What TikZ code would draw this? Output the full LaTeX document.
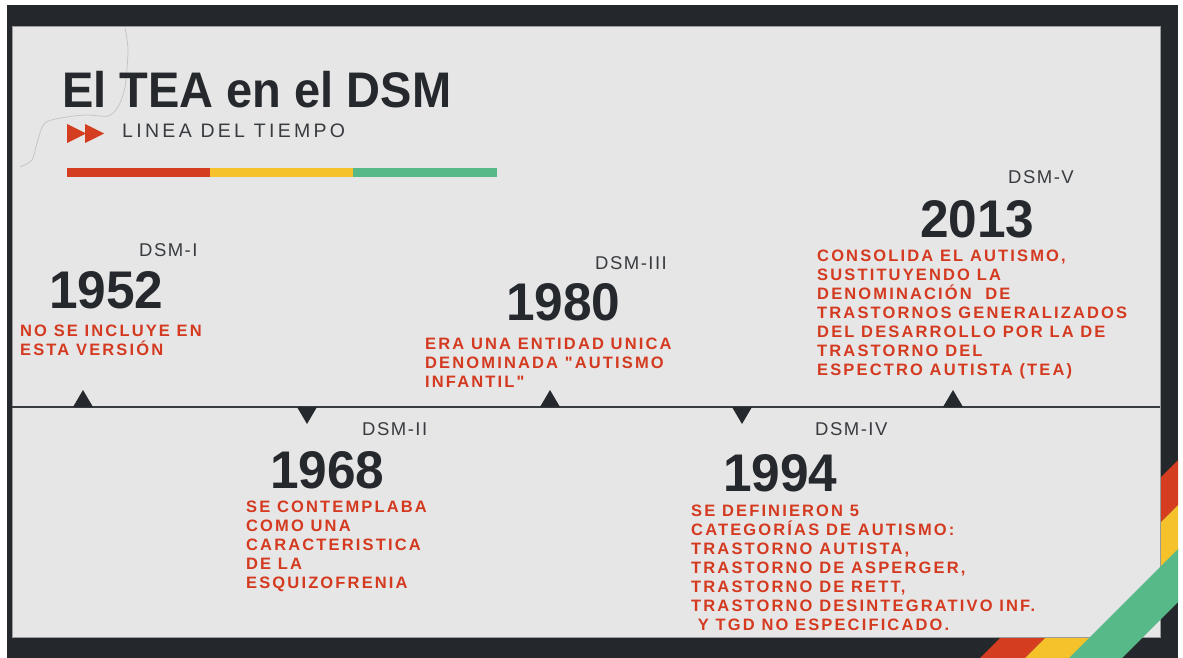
\documentclass[tikz,border=0pt]{standalone}
\usepackage{fontspec}
\setmainfont{Liberation Sans}
\newfontfamily\headfont[FakeStretch=0.94]{Liberation Sans}
\newfontfamily\yearfont[FakeStretch=0.97]{Liberation Sans}
\newfontfamily\notefont[LetterSpace=13]{Liberation Sans}
\newfontfamily\dsmfont[LetterSpace=8]{Liberation Sans}
\newfontfamily\subfont[LetterSpace=17]{Liberation Sans}

\definecolor{framedark}{HTML}{24272B}
\definecolor{paper}{HTML}{E6E6E6}
\definecolor{paperedge}{HTML}{9A9A9A}
\definecolor{crack}{HTML}{C2C2C2}
\definecolor{inkdark}{HTML}{25282C}
\definecolor{labgrey}{HTML}{383B3F}
\definecolor{notered}{HTML}{D43A20}
\definecolor{barred}{HTML}{D43D1F}
\definecolor{baryellow}{HTML}{F5C22C}
\definecolor{bargreen}{HTML}{57B987}

\begin{document}
\begin{tikzpicture}[x=1pt,y=-1pt,
	yearlab/.style={anchor=base west,inner sep=0pt,text=inkdark,font=\yearfont\bfseries\fontsize{53}{60}\selectfont},
	dsmlab/.style={anchor=base west,inner sep=0pt,text=labgrey,font=\dsmfont\fontsize{18.5}{22}\selectfont},
	notelab/.style={anchor=north west,inner sep=0pt,align=left,text=notered,font=\notefont\bfseries\fontsize{16.5}{18.9}\selectfont},
	tick/.style={fill=inkdark}]
	
	\useasboundingbox (0,0) rectangle (1183,658);
	
	% Draw the dark frame and the stripes behind the paper
	\fill[framedark] (7,5) rectangle (1178,658);
	\begin{scope}
		\clip (7,5) rectangle (1178,658);
		\fill[barred] (1238,400) -- (1283,400) -- (983,700) -- (938,700) -- cycle;
		\fill[baryellow] (1283,400) -- (1329,400) -- (1029,700) -- (983,700) -- cycle;
	\end{scope}
	
	% Draw the paper
	\fill[paper,draw=paperedge,line width=1pt] (12,27) rectangle (1160,637);
	\draw[crack,line width=0.7pt] plot[smooth] coordinates {(125,28) (128,50) (125,87) (118,107) (108,116) (88,115) (67,117) (45,123) (37,143) (32,160) (20,167)};
	
	% Draw the green stripe over the corner
	\begin{scope}
		\clip (7,5) rectangle (1178,658);
		\fill[bargreen] (1327,400) -- (1380,400) -- (1080,700) -- (1027,700) -- cycle;
	\end{scope}
	
	% Draw the heading
	\node[anchor=base west,inner sep=0pt,text=inkdark,font=\headfont\bfseries\fontsize{50}{56}\selectfont] (title) at (62,108) {El TEA en el DSM};
	\fill[barred] (67,124) -- (86,133.5) -- (67,143) -- cycle;
	\fill[barred] (85,124) -- (104,133.5) -- (85,143) -- cycle;
	\node[anchor=base west,inner sep=0pt,text=labgrey,font=\subfont\fontsize{19.5}{22}\selectfont] (subtitle) at (122,138) {LINEA DEL TIEMPO};
	\fill[barred] (67,168) rectangle (210,177);
	\fill[baryellow] (210,168) rectangle (353,177);
	\fill[bargreen] (353,168) rectangle (497,177);
	
	% Draw the time line
	\coordinate (tstart) at (12,407);
	\coordinate (tend) at (1160,407);
	\draw[labgrey,line width=2pt] (tstart) -- (tend);
	\foreach \x in {83,550,953}
		\fill[tick] (\x-10,407) -- (\x,390) -- (\x+10,407) -- cycle;
	\foreach \x in {307,742}
		\fill[tick] (\x-10,407) -- (\x,424) -- (\x+10,407) -- cycle;
	
	% DSM-I
	\node[dsmlab] (dsmi) at (139,256) {DSM-I};
	\node[yearlab] (y1952) at (49,308) {1952};
	\node[notelab] (n1952) at (20,325) {NO SE INCLUYE EN\\ESTA VERSIÓN};
	
	% DSM-II
	\node[dsmlab] (dsmii) at (362,435) {DSM-II};
	\node[yearlab] (y1968) at (270,488) {1968};
	\node[notelab] (n1968) at (246,501) {SE CONTEMPLABA\\COMO UNA\\CARACTERISTICA\\DE LA\\ESQUIZOFRENIA};
	
	% DSM-III
	\node[dsmlab] (dsmiii) at (595,269) {DSM-III};
	\node[yearlab] (y1980) at (506,320) {1980};
	\node[notelab] (n1980) at (425,338) {ERA UNA ENTIDAD UNICA\\DENOMINADA "AUTISMO\\INFANTIL"};
	
	% DSM-IV
	\node[dsmlab] (dsmiv) at (815,435) {DSM-IV};
	\node[yearlab] (y1994) at (723,491) {1994};
	\node[notelab] (n1994) at (691,505) {SE DEFINIERON 5\\CATEGORÍAS DE AUTISMO:\\TRASTORNO AUTISTA,\\TRASTORNO DE ASPERGER,\\TRASTORNO DE RETT,\\TRASTORNO DESINTEGRATIVO INF.\\~Y TGD NO ESPECIFICADO.};
	
	% DSM-V
	\node[dsmlab] (dsmv) at (1008,183) {DSM-V};
	\node[yearlab] (y2013) at (920,237) {2013};
	\node[notelab] (n2013) at (817,250) {CONSOLIDA EL AUTISMO,\\SUSTITUYENDO LA\\DENOMINACIÓN~ DE\\TRASTORNOS GENERALIZADOS\\DEL DESARROLLO POR LA DE\\TRASTORNO DEL\\ESPECTRO AUTISTA (TEA)};
\end{tikzpicture}
\end{document}
